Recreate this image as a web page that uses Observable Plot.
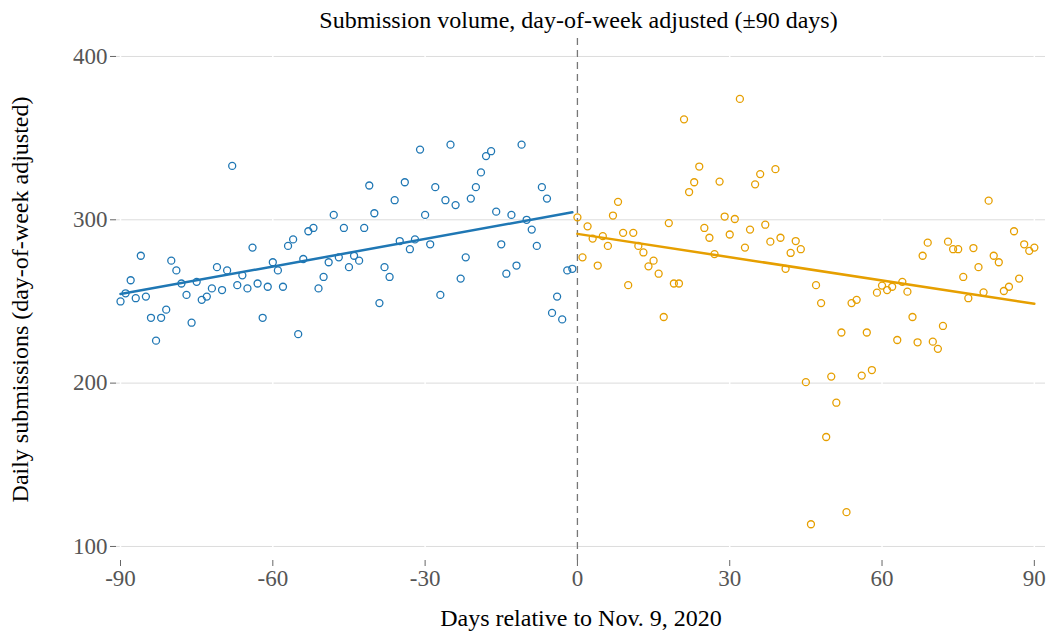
<!DOCTYPE html>
<html><head><meta charset="utf-8">
<script src="https://cdn.jsdelivr.net/npm/d3@7"></script>
<script src="https://cdn.jsdelivr.net/npm/@observablehq/plot@0.6"></script>
<style>
body{margin:0;background:#fff;}
#title{width:1047px;box-sizing:border-box;padding-left:110px;text-align:center;font:24px "Liberation Serif",serif;height:36px;line-height:40px;color:#000;}
</style></head><body>
<div id="title">Submission volume, day-of-week adjusted (±90 days)</div>
<div id="chart"></div>
<script>
const preDays = [-90,-89,-88,-87,-86,-85,-84,-83,-82,-81,-80,-79,-78,-77,-76,-75,-74,-73,-72,-71,-70,-69,-68,-67,-66,-65,-64,-63,-62,-61,-60,-59,-58,-57,-56,-55,-54,-53,-52,-51,-50,-49,-48,-47,-46,-45,-44,-43,-42,-41,-40,-39,-38,-37,-36,-35,-34,-33,-32,-31,-30,-29,-28,-27,-26,-25,-24,-23,-22,-21,-20,-19,-18,-17,-16,-15,-14,-13,-12,-11,-10,-9,-8,-7,-6,-5,-4,-3,-2,-1];
const preValues = [250,255,263,252,278,253,240,226,240,245,275,269,261,254,237,262,251,253,258,271,257,269,333,260,266,258,283,261,240,259,274,269,259,284,288,230,276,293,295,258,265,274,303,277,295,271,278,275,295,321,304,249,271,265,312,287,323,282,288,343,303,285,320,254,312,346,309,264,277,313,320,329,339,342,305,285,267,303,272,346,300,294,284,320,313,243,253,239,269,270];
const postDays = [0,1,2,3,4,5,6,7,8,9,10,11,12,13,14,15,16,17,18,19,20,21,22,23,24,25,26,27,28,29,30,31,32,33,34,35,36,37,38,39,40,41,42,43,44,45,46,47,48,49,50,51,52,53,54,55,56,57,58,59,60,61,62,63,64,65,66,67,68,69,70,71,72,73,74,75,76,77,78,79,80,81,82,83,84,85,86,87,88,89,90];
const postValues = [301.5,277,296,288.5,272,290,284,302.6,311,292,260,292,284,280,271.5,275,267,240.5,298,261,261,361.5,317,323,332.6,295,289,279,323.4,302,291,300.5,374,283,294,321.7,328,297,286.6,331,289,270,279.7,287,282,200.6,113.6,260,249,167,204,188,231,121,249,251,204.6,231,208,255.4,259.7,257,259,226.4,262,256,240.5,225,278,286,225.4,221,235,286.6,282,282,265,252,282.7,271,255.6,311.7,278,274,256.4,259,293,264,285,281,283];
const xTicks = [-90,-60,-30,0,30,60,90];
const yTicks = [100,200,300,400];
const xLabel = "Days relative to Nov. 9, 2020";
const yLabel = "Daily submissions (day-of-week adjusted)";
const blue = "#1f77b4", orange = "#e69f00";

const pre = preDays.map((d,i)=>({day:d, value:preValues[i]}));
const post = postDays.map((d,i)=>({day:d, value:postValues[i]}));

const chart = Plot.plot({
  width: 1047,
  height: 599,
  marginLeft: 116,
  marginRight: 2,
  marginTop: 2,
  marginBottom: 75,
  style: {fontFamily: '"Liberation Serif", serif', fontSize: "23px", background: "#fff"},
  x: {domain: [-90.79, 92.2]},
  y: {domain: [91.4, 411]},
  marks: [
    Plot.gridY(yTicks, {stroke: "#dcdcdc", strokeOpacity: 1}),
    Plot.gridX(xTicks, {stroke: "#fff", strokeOpacity: 1, strokeWidth: 1.5}),
    Plot.ruleX([0], {stroke: "#777", strokeWidth: 1.3, strokeDasharray: "7,5"}),
    Plot.dot(pre, {x: "day", y: "value", r: 3.5, stroke: blue, strokeWidth: 1.3, fill: "none"}),
    Plot.dot(post, {x: "day", y: "value", r: 3.5, stroke: orange, strokeWidth: 1.3, fill: "none"}),
    Plot.linearRegressionY(pre, {x: "day", y: "value", stroke: blue, strokeWidth: 2.5, ci: 0}),
    Plot.linearRegressionY(post, {x: "day", y: "value", stroke: orange, strokeWidth: 2.5, ci: 0}),
    Plot.axisX(xTicks, {tickSize: 6, tickPadding: 3, stroke: "#666", color: "#555", fontSize: 23, tickFormat: d => String(d), label: null}),
    Plot.axisY(yTicks, {tickSize: 6, tickPadding: 3, stroke: "#666", color: "#555", fontSize: 23, tickFormat: d => String(d), label: null}),
    Plot.text([xLabel], {text: d => d, frameAnchor: "bottom", dy: 58, lineAnchor: "middle", fontSize: 24, fill: "#000"}),
    Plot.text([yLabel], {text: d => d, frameAnchor: "left", dx: -96, rotate: -90, textAnchor: "middle", lineAnchor: "middle", fontSize: 24, fill: "#000"})
  ]
});
document.getElementById("chart").appendChild(chart);
</script>
</body></html>
